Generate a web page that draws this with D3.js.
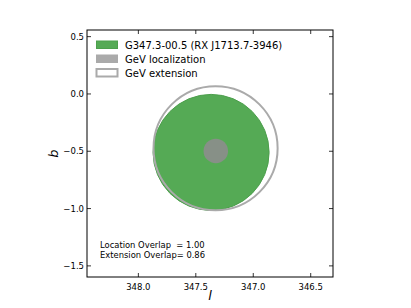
<!DOCTYPE html>
<html><head><meta charset="utf-8">
<script src="https://cdn.jsdelivr.net/npm/d3@7"></script>
<style>body{margin:0;background:#fff}svg{display:block}text{font-family:"DejaVu Sans",sans-serif}</style>
</head><body>
<script>
const xTicks = [348.0, 347.5, 347.0, 346.5];
const yTicks = [0.5, 0.0, -0.5, -1.0, -1.5];
const xDomain = [348.447, 346.306];
const yDomain = [-1.597, 0.558];
const snrCircle = [347.367, -0.51, 0.505];      // l, b, radius
const gevLoc = [347.326, -0.497, 0.107];
const gevExt = [347.328, -0.474, 0.54];
const legendLabels = ["G347.3-00.5 (RX J1713.7-3946)", "GeV localization", "GeV extension"];
const overlapLabels = ["Location Overlap  = 1.00", "Extension Overlap= 0.86"];

const W = 411, H = 308;
const m = {left: 87, right: 333, top: 30, bottom: 277};
const svg = d3.select("body").append("svg").attr("width", W).attr("height", H);
const x = d3.scaleLinear().domain(xDomain).range([m.left, m.right]);
const y = d3.scaleLinear().domain(yDomain).range([m.bottom, m.top]);
const kx = Math.abs(x(1) - x(0));

svg.append("clipPath").attr("id", "c").append("rect")
  .attr("x", m.left).attr("y", m.top).attr("width", m.right - m.left).attr("height", m.bottom - m.top);
const g = svg.append("g").attr("clip-path", "url(#c)");

g.append("circle").attr("cx", x(snrCircle[0])).attr("cy", y(snrCircle[1])).attr("r", snrCircle[2] * kx)
  .attr("fill", "#55aa55").attr("stroke", "#4c9f4c").attr("stroke-width", 1);
g.append("circle").attr("cx", x(gevLoc[0])).attr("cy", y(gevLoc[1])).attr("r", gevLoc[2] * kx)
  .attr("fill", "#879087");
g.append("circle").attr("cx", x(gevExt[0])).attr("cy", y(gevExt[1])).attr("r", gevExt[2] * kx)
  .attr("fill", "none").attr("stroke", "#aaaaaa").attr("stroke-width", 2);

// axes with inward ticks
const fmt = d => d3.format(".1f")(d).replace("-", "\u2212");
const tl = 4;
const ax = svg.append("g").attr("stroke", "#000").attr("stroke-width", 0.8);
xTicks.forEach(t => {
  ax.append("line").attr("x1", x(t)).attr("x2", x(t)).attr("y1", m.bottom).attr("y2", m.bottom - tl);
  ax.append("line").attr("x1", x(t)).attr("x2", x(t)).attr("y1", m.top).attr("y2", m.top + tl);
  svg.append("text").attr("x", x(t)).attr("y", m.bottom + 13).attr("text-anchor", "middle")
    .attr("font-size", 8.5).text(fmt(t));
});
yTicks.forEach(t => {
  ax.append("line").attr("y1", y(t)).attr("y2", y(t)).attr("x1", m.left).attr("x2", m.left + tl);
  ax.append("line").attr("y1", y(t)).attr("y2", y(t)).attr("x1", m.right).attr("x2", m.right - tl);
  svg.append("text").attr("x", m.left - 3).attr("y", y(t) + 3).attr("text-anchor", "end")
    .attr("font-size", 8.5).text(fmt(t));
});
svg.append("rect").attr("x", m.left).attr("y", m.top).attr("width", m.right - m.left).attr("height", m.bottom - m.top)
  .attr("fill", "none").attr("stroke", "#000").attr("stroke-width", 1);

svg.append("text").attr("x", (m.left + m.right) / 2).attr("y", 300).attr("text-anchor", "middle")
  .attr("font-family", "DejaVu Serif").attr("font-style", "italic").attr("font-size", 13).text("l");
svg.append("text").attr("transform", `translate(58,${(m.top + m.bottom) / 2}) rotate(-90)`).attr("text-anchor", "middle")
  .attr("font-family", "DejaVu Serif").attr("font-style", "italic").attr("font-size", 13).text("b");

// legend
const ly = [44.5, 58.5, 72.5];
const patch = [
  {fill: "#55aa55", stroke: "#4c9f4c", sw: 1},
  {fill: "#aaaaaa", stroke: "#aaaaaa", sw: 1},
  {fill: "#ffffff", stroke: "#aaaaaa", sw: 2}
];
legendLabels.forEach((lab, i) => {
  svg.append("rect").attr("x", 96.5).attr("y", ly[i] - 3.5).attr("width", 21).attr("height", 7.5)
    .attr("fill", patch[i].fill).attr("stroke", patch[i].stroke).attr("stroke-width", patch[i].sw);
  svg.append("text").attr("x", 125).attr("y", ly[i] + 4).attr("font-size", 10).text(lab);
});

overlapLabels.forEach((t, i) => {
  svg.append("text").attr("x", 100).attr("y", 248 + i * 9.5).attr("font-size", 8.4)
    .style("white-space", "pre").text(t);
});
</script>
</body></html>
